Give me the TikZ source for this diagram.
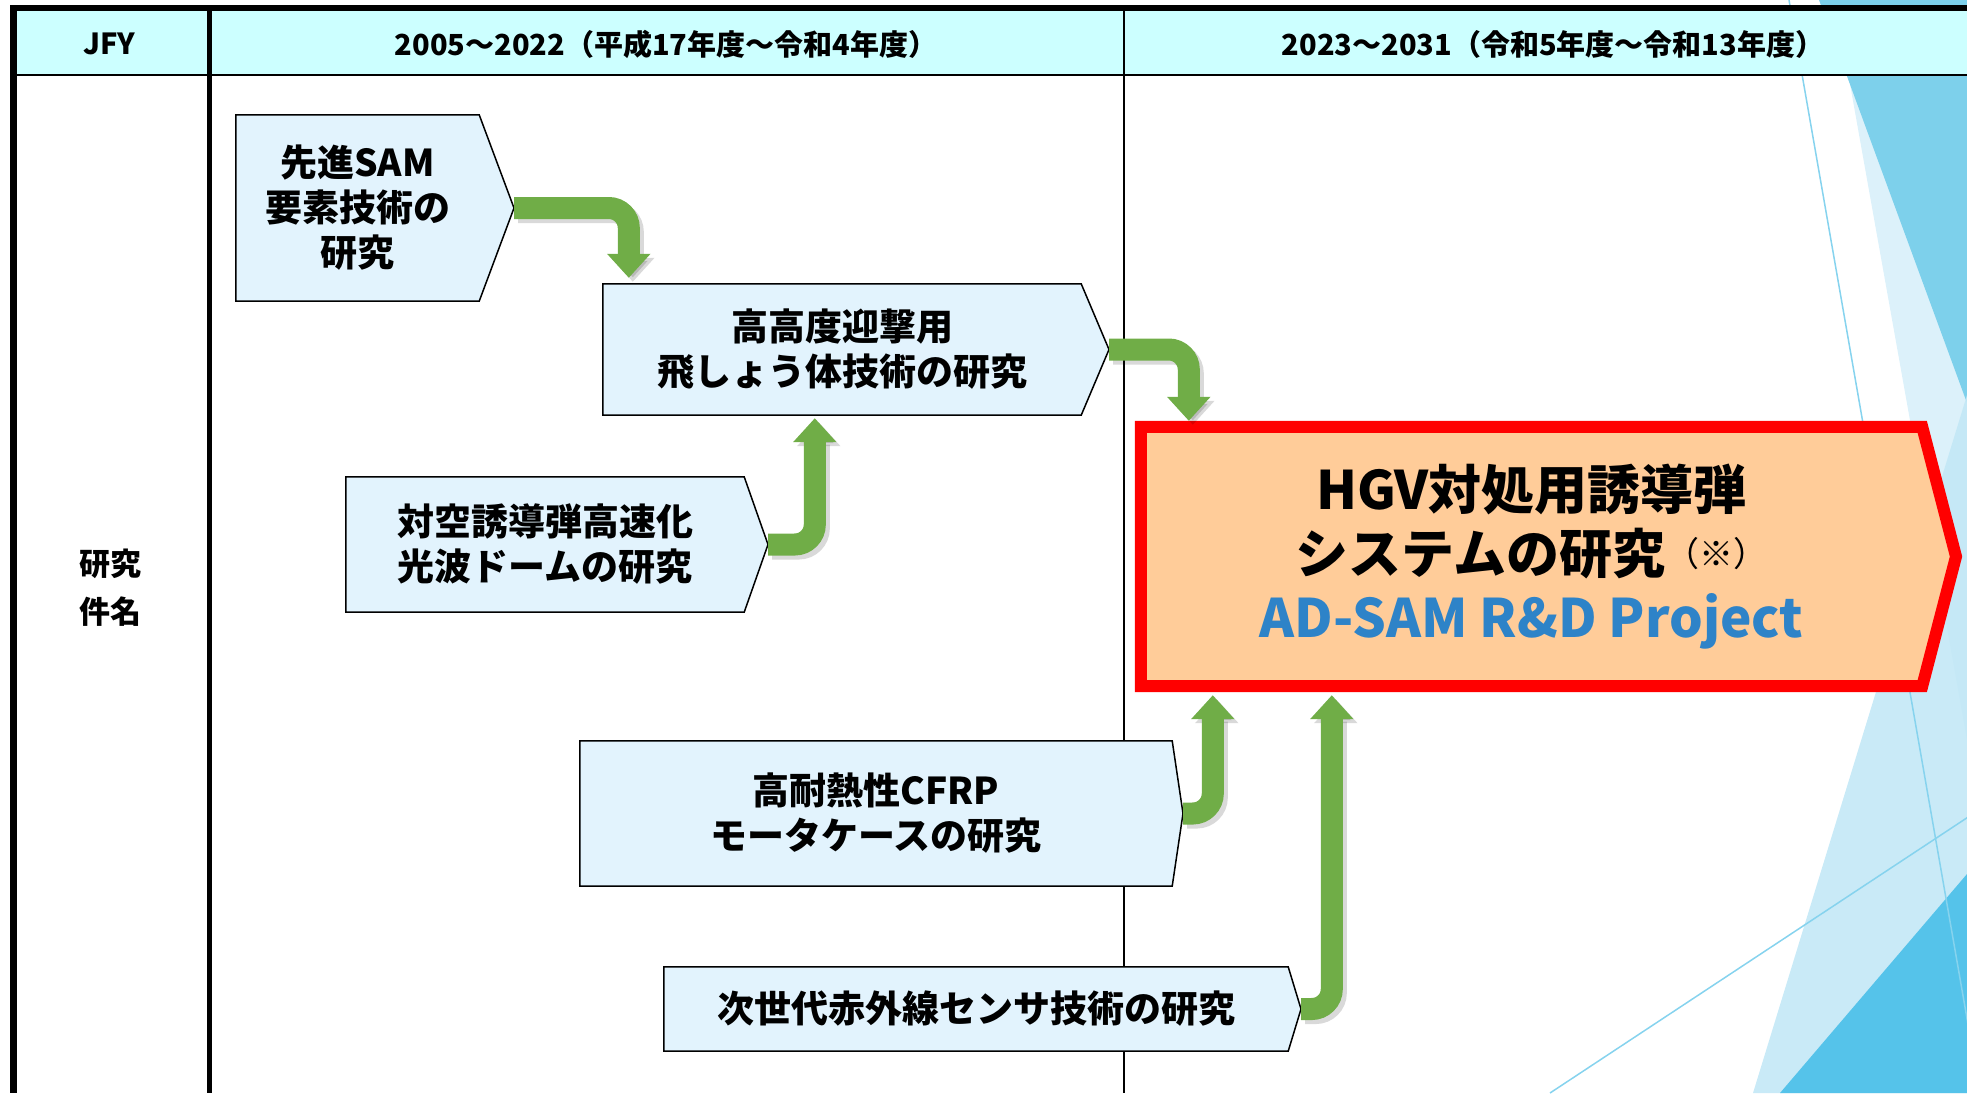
\documentclass[tikz,border=0pt]{standalone}
\usepackage{fontspec}
\setmainfont{Noto Sans CJK JP}
\usetikzlibrary{arrows.meta,calc}
\definecolor{hdr}{HTML}{CCFFFF}
\definecolor{boxfill}{HTML}{E2F3FD}
\definecolor{peach}{HTML}{FFCC99}
\definecolor{arrgreen}{HTML}{70AD47}
\definecolor{projblue}{HTML}{2E83C8}
\definecolor{facetA}{HTML}{7DD0EB}
\definecolor{facetB}{HTML}{DCF1FA}
\definecolor{facetC}{HTML}{C3E8F6}
\definecolor{facetD}{HTML}{55C3EA}
\definecolor{facetL}{HTML}{86D3EE}
\pgfdeclarelayer{back}\pgfdeclarelayer{boxes}
\pgfsetlayers{back,boxes,main}
\tikzset{
  boxshape/.style={fill=boxfill,draw=black,line width=1.5pt,line join=miter},
  boxtext/.style={inner sep=0pt,align=center,font=\bfseries\fontsize{37}{45}\selectfont},
  hdrtext/.style={inner sep=0pt,font=\bfseries\fontsize{29}{29}\selectfont},
  flow/.style={draw=arrgreen,line width=22pt,rounded corners=20pt,-{Triangle[width=42pt,length=24pt]}},
  flowshadow/.style={draw=black,opacity=0.15,line width=22pt,rounded corners=20pt,-{Triangle[width=42pt,length=24pt]},transform canvas={shift={(4pt,-4pt)}}},
}
\newcommand\mkchev[7]{%
  \node[boxtext,minimum width={(#4)-(#2)},minimum height={(#5)-(#3)}] (#1) at ({((#2)+(#4))/2},{((#3)+(#5))/2}) {#7};
  \coordinate (#1tip) at (#6,{((#3)+(#5))/2});
  \begin{pgfonlayer}{boxes}
  \draw[boxshape] (#1.north west) -- (#1.north east) -- (#1tip) -- (#1.south east) -- (#1.south west) -- cycle;
  \end{pgfonlayer}}
\begin{document}
\begin{tikzpicture}[x=1pt,y=-1pt]
\useasboundingbox (0,0) rectangle (1967,1093);
\begin{pgfonlayer}{back}
\begin{scope}
\clip (0,0) rectangle (1967,1093);
\fill[facetB] (1835,0) -- (1967,0) -- (1967,740) -- cycle;
\fill[facetA] (1819,0) -- (1967,0) -- (1967,403) -- cycle;
\fill[facetC,opacity=0.9] (1967,395) -- (1967,1093) -- (1753,1093) -- cycle;
\fill[facetD] (1967,874) -- (1967,1093) -- (1780,1093) -- cycle;
\draw[facetL,line width=1.5pt] (1789,0) -- (1980,1093);
\draw[facetL,line width=1.5pt] (1550,1093) -- (2000,796);
\end{scope}
\fill[hdr] (10,11) rectangle (1967,75);
\draw[line width=1.5pt] (10,75) -- (1967,75);
\draw[line width=6pt] (10,8) -- (1967,8);
\draw[line width=7pt] (13.5,5) -- (13.5,1093);
\draw[line width=5pt] (209,5) -- (209,1093);
\draw[line width=1.5pt] (1124,8) -- (1124,1093);
\end{pgfonlayer}
% header
\node[hdrtext] (hjfy) at (109,44) {JFY};
\node[hdrtext] (hp1) at (666,44) {2005～2022（平成17年度～令和4年度）};
\node[hdrtext] (hp2) at (1553,44) {2023～2031（令和5年度～令和13年度）};
\node[inner sep=0pt,align=center,font=\bfseries\fontsize{31}{48}\selectfont] (lab) at (110,588) {研究\\件名};
% boxes
\mkchev{b1}{236}{115}{479}{301}{514}{先進SAM\\要素技術の\\研究}
\mkchev{b2}{603}{284}{1081}{415}{1109}{高高度迎撃用\\飛しょう体技術の研究}
\mkchev{b3}{346}{477}{744}{612}{768}{対空誘導弾高速化\\光波ドームの研究}
\mkchev{b4}{580}{741}{1172}{886}{1183}{高耐熱性CFRP\\モータケースの研究}
\mkchev{b5}{664}{967}{1288}{1051}{1301}{次世代赤外線センサ技術の研究}
% big box
\node[inner sep=0pt,minimum width=781pt,minimum height=259pt,align=center,font=\bfseries\fontsize{53}{64}\selectfont] (big) at (1531.5,556.5)
  {HGV対処用誘導弾\\システムの研究\raisebox{7pt}{\mdseries\fontsize{34}{34}\selectfont（※）}\\\textcolor{projblue}{AD-SAM R\&D Project}};
\coordinate (bigtip) at (1956,556.5);
\begin{pgfonlayer}{boxes}
\draw[fill=peach,draw=red,line width=12pt,line join=miter] (big.north west) -- (big.north east) -- (bigtip) -- (big.south east) -- (big.south west) -- cycle;
\end{pgfonlayer}
% connectors
\coordinate (t1) at ($(b2.north west)+(26,-6)$);
\coordinate (t2) at ($(big.north west)+(48,-6)$);
\coordinate (t3) at ($(b2.south west)+(212,3)$);
\coordinate (t4) at ($(big.south west)+(72,9)$);
\coordinate (t5) at ($(big.south west)+(191,9)$);
\foreach \s/\t in {b1tip/t1,b2tip/t2,b3tip/t3,b4tip/t4,b5tip/t5}{
  \draw[flowshadow] (\s) -| (\t);
}
\foreach \s/\t in {b1tip/t1,b2tip/t2,b3tip/t3,b4tip/t4,b5tip/t5}{
  \draw[flow] (\s) -| (\t);
}
\end{tikzpicture}
\end{document}
